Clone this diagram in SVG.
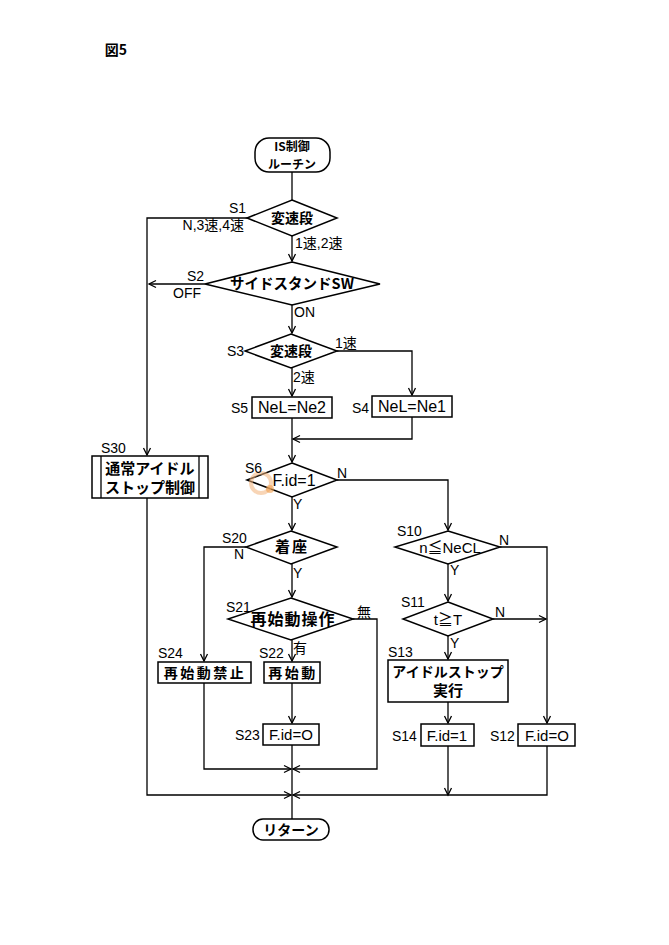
<svg xmlns="http://www.w3.org/2000/svg" width="669" height="945" viewBox="0 0 669 945">
<style>
  .shape{fill:#fff;stroke:#000;stroke-width:1.5}
  .line{fill:none;stroke:#000;stroke-width:1.3}
  .t{font-family:"Noto Sans CJK JP","Liberation Sans",sans-serif;font-weight:bold;font-size:14px;fill:#000;text-anchor:middle}
  .lab{font-family:"Liberation Sans","Noto Sans CJK JP",sans-serif;font-size:14px;fill:#000}
  .v{font-family:"Liberation Sans","Noto Sans CJK JP",sans-serif;font-size:16px;fill:#000;text-anchor:middle}
</style>
<defs>
  <marker id="arr" markerUnits="userSpaceOnUse" markerWidth="12" markerHeight="12" refX="0" refY="0" viewBox="-8 -6 10 12" orient="auto">
    <path d="M-7,-3.5 L0,0 L-7,3.5" fill="none" stroke="#000" stroke-width="1.3"/>
  </marker>
</defs>
<rect width="669" height="945" fill="#fff"/>
<text class="t" x="116" y="55" style="font-size:14px">図5</text>

<g id="connectors">
  <path class="line" d="M292,172 V200"/>
  <path class="line" d="M292,236 V261" marker-end="url(#arr)"/>
  <path class="line" d="M247,218 H147 V455" marker-end="url(#arr)"/>
  <path class="line" d="M205,284 H149" marker-end="url(#arr)"/>
  <path class="line" d="M292,305 V333" marker-end="url(#arr)"/>
  <path class="line" d="M292,368 V396" marker-end="url(#arr)"/>
  <path class="line" d="M337,351 H412 V395" marker-end="url(#arr)"/>
  <path class="line" d="M412,417 V439 H293" marker-end="url(#arr)"/>
  <path class="line" d="M292,418 V462" marker-end="url(#arr)"/>
  <path class="line" d="M337,480 H448 V530" marker-end="url(#arr)"/>
  <path class="line" d="M292,497 V530" marker-end="url(#arr)"/>
  <path class="line" d="M246,547 H204 V661" marker-end="url(#arr)"/>
  <path class="line" d="M292,564 V597" marker-end="url(#arr)"/>
  <path class="line" d="M353,619 H377 V769 H293" marker-end="url(#arr)"/>
  <path class="line" d="M292,640 V661" marker-end="url(#arr)"/>
  <path class="line" d="M292,683 V723" marker-end="url(#arr)"/>
  <path class="line" d="M204,683 V769 H291" marker-end="url(#arr)"/>
  <path class="line" d="M292,745 V819"/>
  <path class="line" d="M147,498 V795 H291" marker-end="url(#arr)"/>
  <path class="line" d="M547,746 V795 H293" marker-end="url(#arr)"/>
  <path class="line" d="M448,746 V795" marker-end="url(#arr)"/>
  <path class="line" d="M448,564 V601" marker-end="url(#arr)"/>
  <path class="line" d="M500,547 H547 V723" marker-end="url(#arr)"/>
  <path class="line" d="M493,619 H546" marker-end="url(#arr)"/>
  <path class="line" d="M448,636 V659" marker-end="url(#arr)"/>
  <path class="line" d="M448,702 V723" marker-end="url(#arr)"/>
</g>

<g id="start">
  <rect class="shape" x="255" y="138" width="75" height="34" rx="14"/>
  <text class="t" x="292" y="151" style="font-size:12px">IS制御</text>
  <text class="t" x="292" y="169" style="font-size:12px">ルーチン</text>
</g>

<g id="S1">
  <polygon class="shape" points="292,200 337,218 292,236 247,218"/>
  <text class="t" x="292" y="223">変速段</text>
  <text class="lab" x="229" y="213">S1</text>
  <text class="lab" x="244" y="230" text-anchor="end">N,3速,4速</text>
  <text class="lab" x="295" y="248">1速,2速</text>
</g>

<g id="S2">
  <polygon class="shape" points="292,262 380,284 292,305 205,284"/>
  <text class="t" x="292" y="289" style="font-size:14.5px">サイドスタンドSW</text>
  <text class="lab" x="187" y="281">S2</text>
  <text class="lab" x="173" y="298">OFF</text>
  <text class="lab" x="294" y="317">ON</text>
</g>

<g id="S3">
  <polygon class="shape" points="291,334 337,351 291,368 245,351"/>
  <text class="t" x="291" y="356">変速段</text>
  <text class="lab" x="227" y="356">S3</text>
  <text class="lab" x="335" y="348">1速</text>
  <text class="lab" x="293" y="382">2速</text>
</g>

<g id="S5">
  <rect class="shape" x="252" y="397" width="80" height="21"/>
  <text class="v" x="292" y="413">NeL=Ne2</text>
  <text class="lab" x="231" y="413">S5</text>
</g>

<g id="S4">
  <rect class="shape" x="372" y="396" width="80" height="21"/>
  <text class="v" x="412" y="412">NeL=Ne1</text>
  <text class="lab" x="352" y="413">S4</text>
</g>

<g id="S30">
  <rect class="shape" x="92" y="456" width="116" height="42"/>
  <line class="line" x1="101" y1="456" x2="101" y2="498"/>
  <line class="line" x1="199" y1="456" x2="199" y2="498"/>
  <text class="t" x="150" y="474" style="font-size:15px">通常アイドル</text>
  <text class="t" x="150" y="493" style="font-size:15px">ストップ制御</text>
  <text class="lab" x="101" y="453">S30</text>
</g>

<g id="S6">
  <polygon class="shape" points="292,463 337,480 292,497 247,480"/>
  <circle cx="261" cy="483" r="10" fill="none" stroke="#f2b27a" stroke-width="4" opacity="0.55"/>
  <circle cx="270" cy="489" r="4" fill="#f0a050" opacity="0.6"/>
  <text class="v" x="294" y="486">F.id=1</text>
  <text class="lab" x="245" y="473">S6</text>
  <text class="lab" x="337" y="478">N</text>
  <text class="lab" x="293" y="509">Y</text>
</g>

<g id="S20">
  <polygon class="shape" points="291,531 337,547 291,564 246,547"/>
  <text class="t" x="292" y="552" style="font-size:15px;letter-spacing:2px">着座</text>
  <text class="lab" x="222" y="543">S20</text>
  <text class="lab" x="234" y="559">N</text>
  <text class="lab" x="293" y="578">Y</text>
</g>

<g id="S21">
  <polygon class="shape" points="291,598 353,619 291,640 228,619"/>
  <text class="t" x="293" y="625" style="font-size:16px;letter-spacing:1px">再始動操作</text>
  <text class="lab" x="226" y="612">S21</text>
  <text class="lab" x="357" y="617">無</text>
  <text class="lab" x="293" y="653">有</text>
</g>

<g id="S24">
  <rect class="shape" x="158" y="662" width="93" height="21"/>
  <text class="t" x="205" y="678" style="font-size:14px;letter-spacing:2.5px">再始動禁止</text>
  <text class="lab" x="158" y="658">S24</text>
</g>

<g id="S22">
  <rect class="shape" x="264" y="662" width="56" height="21"/>
  <text class="t" x="293" y="678" style="font-size:14px;letter-spacing:2.5px">再始動</text>
  <text class="lab" x="259" y="658">S22</text>
</g>

<g id="S23">
  <rect class="shape" x="263" y="724" width="56" height="21"/>
  <text class="v" x="291" y="740" style="font-size:15px">F.id=O</text>
  <text class="lab" x="235" y="740">S23</text>
</g>

<g id="S10">
  <polygon class="shape" points="448,531 500,547 448,564 395,547"/>
  <text class="v" x="450" y="553" style="font-size:15px">n≦NeCL</text>
  <text class="lab" x="397" y="536">S10</text>
  <text class="lab" x="499" y="545">N</text>
  <text class="lab" x="450" y="575">Y</text>
</g>

<g id="S11">
  <polygon class="shape" points="448,602 493,619 448,636 403,619"/>
  <text class="v" x="448" y="625" style="font-size:15px">t≧T</text>
  <text class="lab" x="401" y="607">S11</text>
  <text class="lab" x="495" y="617">N</text>
  <text class="lab" x="450" y="648">Y</text>
</g>

<g id="S13">
  <rect class="shape" x="388" y="660" width="120" height="42"/>
  <text class="t" x="448" y="677">アイドルストップ</text>
  <text class="t" x="448" y="696" style="font-size:15px">実行</text>
  <text class="lab" x="388" y="657">S13</text>
</g>

<g id="S14">
  <rect class="shape" x="421" y="724" width="53" height="22"/>
  <text class="v" x="447" y="741" style="font-size:15px">F.id=1</text>
  <text class="lab" x="392" y="741">S14</text>
</g>

<g id="S12">
  <rect class="shape" x="518" y="724" width="57" height="22"/>
  <text class="v" x="547" y="741" style="font-size:15px">F.id=O</text>
  <text class="lab" x="490" y="741">S12</text>
</g>

<g id="return">
  <rect class="shape" x="253" y="819" width="76" height="21" rx="10"/>
  <text class="t" x="291" y="835">リターン</text>
</g>
</svg>
